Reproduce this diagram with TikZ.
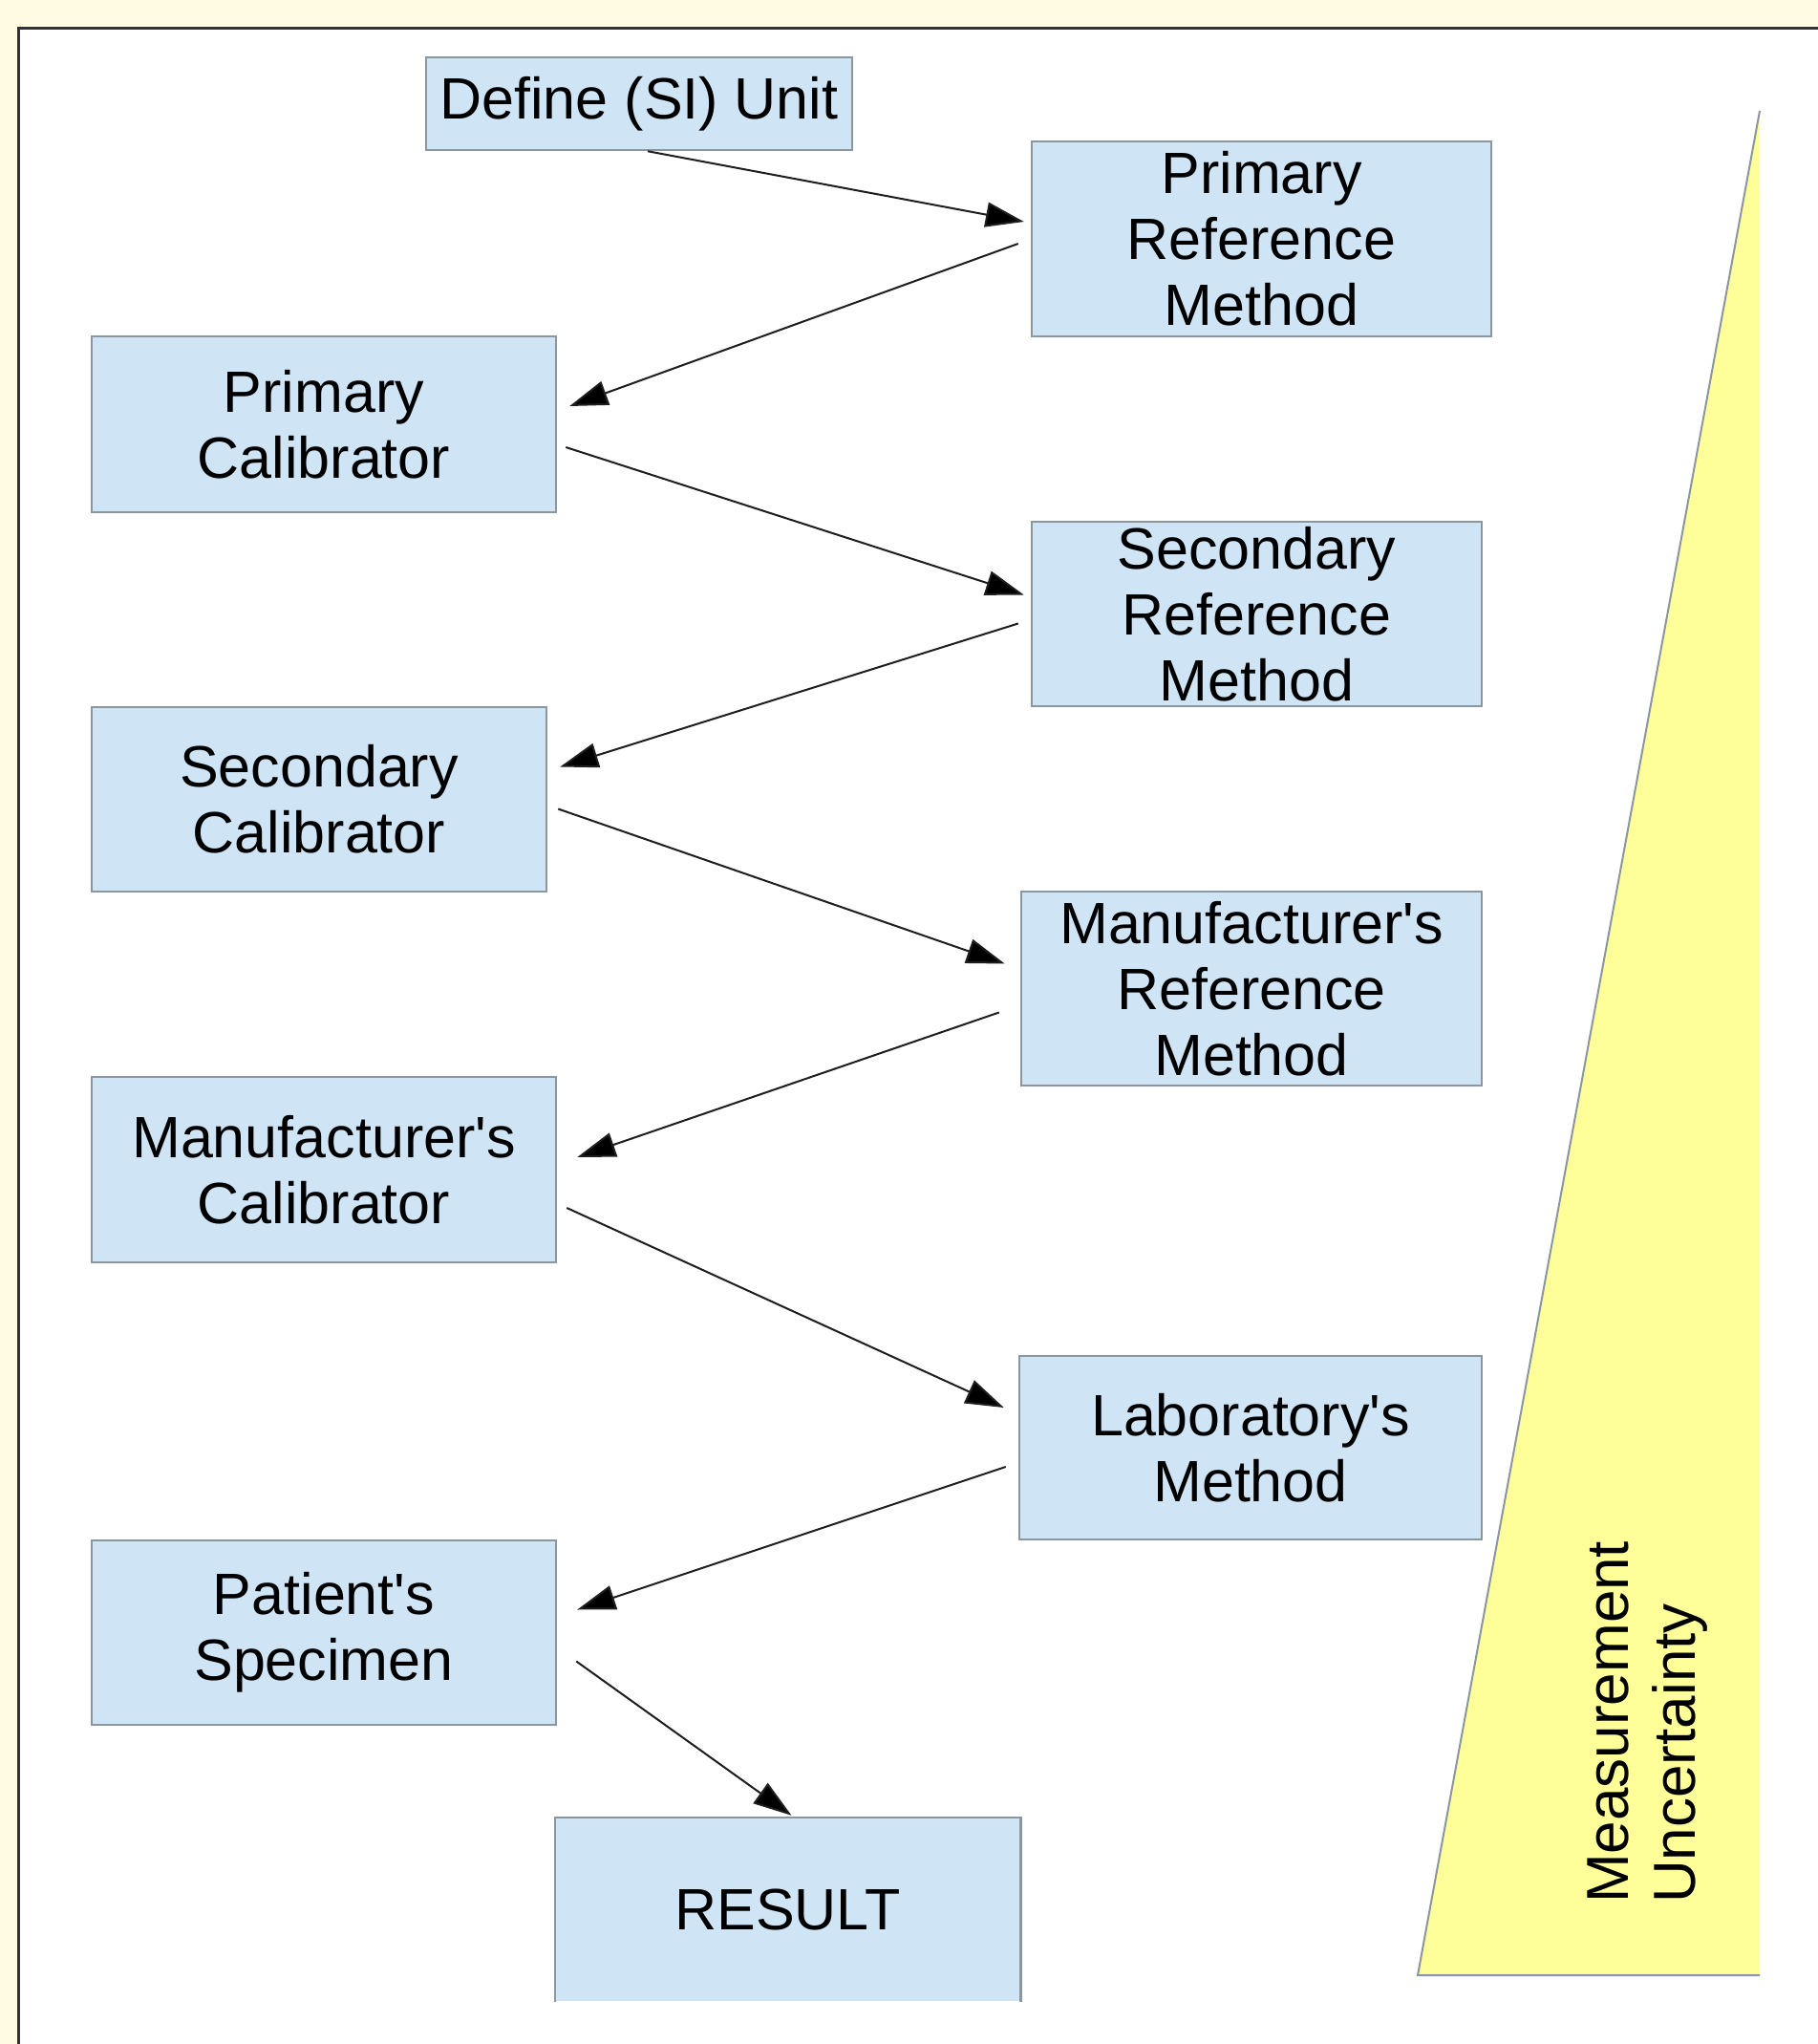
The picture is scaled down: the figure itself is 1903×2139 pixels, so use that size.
\documentclass[tikz,border=0pt]{standalone}
\usepackage{fontspec}
\setmainfont{Liberation Sans}
\usetikzlibrary{arrows.meta,calc}
\definecolor{cream}{RGB}{255,252,227}
\definecolor{boxfill}{RGB}{207,229,245}
\definecolor{boxline}{RGB}{140,150,158}
\definecolor{triyellow}{RGB}{255,255,153}
\definecolor{arrowcol}{RGB}{30,30,30}
\tikzset{
  stepbox/.style={draw=boxline, line width=2.5pt, fill=boxfill, inner sep=0pt,
    align=center, font=\fontsize{61}{69}\selectfont},
  flow/.style={draw=arrowcol, line width=2pt, -{Triangle[length=40pt,width=26pt,fill=black]}},
}
\newcommand{\apos}{\textquotesingle}
\begin{document}
\begin{tikzpicture}[x=1pt,y=-1pt]
\useasboundingbox (0,0) rectangle (1903,2139);
% background and frame
\fill[cream] (0,0) rectangle (1903,2139);
\fill[white] (19,29) rectangle (1903,2139);
\draw[line width=3pt, black!80] (19.5,2139) -- (19.5,29.5) -- (1903,29.5);
% uncertainty wedge
\fill[triyellow] (1842,116) -- (1484,2067) -- (1842,2067) -- cycle;
\draw[boxline, line width=2pt] (1842,116) -- (1484,2067) -- (1842,2067);
\node[rotate=90, anchor=west, inner sep=0pt, align=left,
  font=\fontsize{62}{70}\selectfont] (mu) at (1725,1992) {Measurement\\Uncertainty};
% nodes
\node[stepbox, minimum width=446pt, minimum height=97pt] (define) at (669,108.5) {Define (SI) Unit};
\node[stepbox, minimum width=481pt, minimum height=204pt] (prm) at (1320.5,250) {Primary\\Reference\\Method};
\node[stepbox, minimum width=486pt, minimum height=184pt] (pc) at (339,444) {Primary\\Calibrator};
\node[stepbox, minimum width=471pt, minimum height=193pt] (srm) at (1315.5,642.5) {Secondary\\Reference\\Method};
\node[stepbox, minimum width=476pt, minimum height=193pt] (sc) at (334,836.5) {Secondary\\Calibrator};
\node[stepbox, minimum width=482pt, minimum height=203pt] (mrm) at (1310,1034.5) {Manufacturer\apos s\\Reference\\Method};
\node[stepbox, minimum width=486pt, minimum height=194pt] (mc) at (339,1224) {Manufacturer\apos s\\Calibrator};
\node[stepbox, minimum width=484pt, minimum height=192pt] (lm) at (1309,1515) {Laboratory\apos s\\Method};
\node[stepbox, minimum width=486pt, minimum height=193pt] (ps) at (339,1708.5) {Patient\apos s\\Specimen};
\node[stepbox, draw=none, minimum width=485pt, minimum height=191pt] (result) at (824.5,1998.5) {RESULT};
\draw[boxline, line width=2.5pt] (result.south west) -- (result.north west) -- (result.north east) -- (result.south east);
% connectors
\draw[flow] ($(define.south)+(9,0)$) -- ($(prm.west)+(-7,-18)$);
\draw[flow] ($(prm.west)+(-13,5)$) -- ($(pc.east)+(13,-19)$);
\draw[flow] ($(pc.east)+(9,24)$) -- ($(srm.west)+(-7,-20)$);
\draw[flow] ($(srm.west)+(-13,10)$) -- ($(sc.east)+(13,-34)$);
\draw[flow] ($(sc.east)+(11,10)$) -- ($(mrm.west)+(-16,-26)$);
\draw[flow] ($(mrm.west)+(-22,25)$) -- ($(mc.east)+(21,-13)$);
\draw[flow] ($(mc.east)+(10,40)$) -- ($(lm.west)+(-15,-42)$);
\draw[flow] ($(lm.west)+(-13,20)$) -- ($(ps.east)+(21,-24)$);
\draw[flow] ($(ps.east)+(20,30)$) -- ($(result.north)+(4,-2)$);
\end{tikzpicture}
\end{document}
